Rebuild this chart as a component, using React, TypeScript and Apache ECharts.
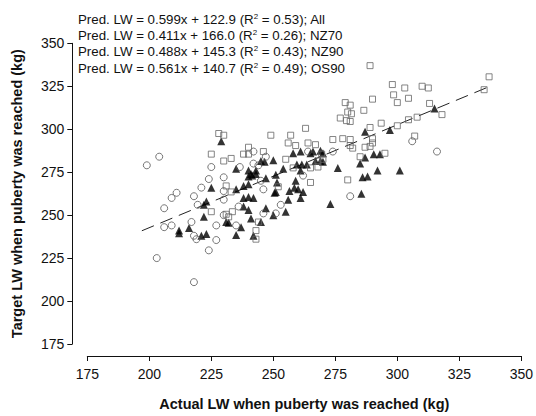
import React, { useEffect, useRef } from "react";
import * as echarts from "echarts";

// NZ70 (open circles)
const nz70: [number, number][] = [
  [199, 279], [204, 284], [209, 260], [211, 263], [206, 254], [218, 261], [219.5, 256],
  [206, 243], [209, 244], [217, 246], [218, 238], [219, 236], [203, 225], [218, 211],
  [225, 278], [224, 271], [221, 266], [230, 272], [230, 264], [230, 259], [236.5, 278],
  [242, 287], [242, 280], [244, 279], [245, 270], [246, 265], [247, 284], [236, 255],
  [230, 250], [227, 244], [227, 235.5], [224, 229.5], [235, 244], [246, 251], [251, 251],
  [253, 256], [262, 273], [274, 287], [264, 287], [281, 261], [306, 293], [316, 287],
];

// NZ90 (filled triangles)
const nz90: [number, number][] = [
  [212, 241], [212, 239.5], [216, 242.5], [229, 293], [225, 266], [223, 258], [222, 256],
  [222, 249], [221, 238], [223, 239], [235, 238.5], [237, 243], [231, 246], [232, 245.5],
  [241, 248], [242, 238], [240, 253], [238, 255], [238, 260], [240, 260.5], [242, 260],
  [235, 265], [238, 267], [240, 268], [240, 272.5], [241, 274], [241.5, 273], [240, 276],
  [243, 276], [243, 274], [235, 277], [245, 281.5], [246.5, 281], [250, 282], [247, 271.5],
  [251, 273.5], [251.5, 269], [250.5, 263], [251, 263.5], [247, 254], [250, 250], [255, 252],
  [256, 259], [259, 270], [258.5, 266], [260, 265], [262, 263.5], [261, 260], [254, 277],
  [258, 286], [261, 287], [259.5, 279.5], [261.5, 279.5], [261, 276], [263.5, 279.5],
  [265, 286], [266, 287], [269, 287.5], [270, 286], [267, 281.5], [269, 281.5], [270, 281],
  [276, 277.5], [273, 256.5], [285, 280], [287, 298.5], [286, 272], [285.5, 262.5],
  [297, 299.5], [315, 312], [287, 283.5], [290.5, 285.5], [293, 285.5], [288, 272.5],
  [292, 276], [301, 276], [245, 246], [256.5, 264],
];

// OS90 (open squares)
const os90: [number, number][] = [
  [289, 337], [337, 330.5], [335, 323], [298, 326], [303, 324], [310, 325], [312.5, 324],
  [298.5, 320], [300, 315.5], [304.5, 318], [290, 317.5], [279, 315.5], [281, 314],
  [286.5, 311], [280, 310], [281.5, 309], [279.5, 305], [281, 304.5], [277, 306.5],
  [313, 315], [318, 308.5], [308, 307], [304.5, 305.5], [293.5, 303.5], [300, 302],
  [289, 301], [307, 296], [278, 294.5], [281, 294], [290, 294.5], [290, 292], [281, 290.5],
  [282, 289], [287, 289.5], [289, 290], [295, 286], [285, 284], [280, 270.5], [249, 296.5],
  [257, 296.5], [263, 300.5], [256, 292], [259, 290.5], [264, 292], [267, 291], [240, 289.5],
  [246, 287], [255, 282.5], [269.5, 285.5], [270, 282.5], [268, 281.5], [258, 277.5],
  [265, 277.5], [268, 278], [265, 269], [274, 294], [228, 297.5], [230, 296.5], [225, 285.5],
  [230, 281.5], [233, 283], [238, 285.5], [240, 285.5], [231, 267], [233, 263.5], [225, 252],
  [231, 250.5], [233.5, 252], [232, 249], [244, 246], [243, 241], [243, 236], [252, 266.5],
];

// overall regression
const slopeAll = 0.599;
const interceptAll = 122.9;
const fitX = [197, 338];

const equations = [
  { slope: "0.599", intercept: "122.9", r2: "0.53", group: "All" },
  { slope: "0.411", intercept: "166.0", r2: "0.26", group: "NZ70" },
  { slope: "0.488", intercept: "145.3", r2: "0.43", group: "NZ90" },
  { slope: "0.561", intercept: "140.7", r2: "0.49", group: "OS90" },
];

const axisTicks = { min: 175, max: 350, interval: 25 };
const xTitle = "Actual LW when puberty was reached (kg)";
const yTitle = "Target LW when puberty was reached (kg)";

const FONT = "Liberation Sans, Arial, sans-serif";

export default function App() {
  const ref = useRef<HTMLDivElement>(null);
  useEffect(() => {
    if (!ref.current) return;
    const chart = echarts.init(ref.current, undefined, { renderer: "svg" });
    const axisCommon = {
      type: "value" as const,
      min: axisTicks.min,
      max: axisTicks.max,
      interval: axisTicks.interval,
      splitLine: { show: false },
      axisLine: { show: true, onZero: false, lineStyle: { color: "#111", width: 1 } },
      axisTick: { show: true, inside: false, length: 5, lineStyle: { color: "#111" } },
      nameLocation: "middle" as const,
      nameTextStyle: { fontFamily: FONT, fontWeight: "bold" as const, fontSize: 14.5, color: "#111" },
    };
    chart.setOption({
      animation: false,
      textStyle: { fontFamily: FONT },
      grid: { left: 87.3, right: 12, top: 43.3, bottom: 66, containLabel: false },
      xAxis: {
        ...axisCommon,
        offset: 12,
        name: xTitle,
        nameGap: 40,
        axisLabel: { fontFamily: FONT, fontSize: 14, color: "#111", margin: 11 },
      },
      yAxis: {
        ...axisCommon,
        offset: 15,
        name: yTitle,
        nameGap: 48,
        axisLabel: { fontFamily: FONT, fontSize: 14, color: "#111", margin: 8 },
      },
      graphic: equations.map((e, i) => ({
        type: "text",
        left: 78,
        top: 12 + i * 16.4,
        style: {
          text: `{n|Pred. LW = ${e.slope}x + ${e.intercept} (R}{s|2}{n| = ${e.r2}); ${e.group}}`,
          rich: {
            n: { fontFamily: FONT, fontSize: 13.3, fill: "#111" },
            s: { fontFamily: FONT, fontSize: 8, fill: "#111", verticalAlign: "top", padding: [0, 0, 6, 0] },
          },
        },
      })),
      series: [
        {
          type: "line",
          data: fitX.map((x) => [x, slopeAll * x + interceptAll]),
          symbol: "none",
          lineStyle: { color: "#222", width: 1, type: [13, 7] },
          z: 1,
        },
        {
          name: "NZ90",
          type: "scatter",
          data: nz90,
          symbol: "triangle",
          symbolSize: 8,
          itemStyle: { color: "#000" },
          z: 2,
        },
        {
          name: "NZ70",
          type: "scatter",
          data: nz70,
          symbol: "circle",
          symbolSize: 7,
          itemStyle: { color: "rgba(255,255,255,0)", borderColor: "#555", borderWidth: 1 },
          z: 3,
        },
        {
          name: "OS90",
          type: "scatter",
          data: os90,
          symbol: "rect",
          symbolSize: 6,
          itemStyle: { color: "rgba(255,255,255,0)", borderColor: "#666", borderWidth: 1 },
          z: 3,
        },
      ],
    });
    return () => chart.dispose();
  }, []);
  return (
    <div
      ref={ref}
      style={{ position: "absolute", left: 0, top: 0, width: 536, height: 416, background: "#fff" }}
    />
  );
}
